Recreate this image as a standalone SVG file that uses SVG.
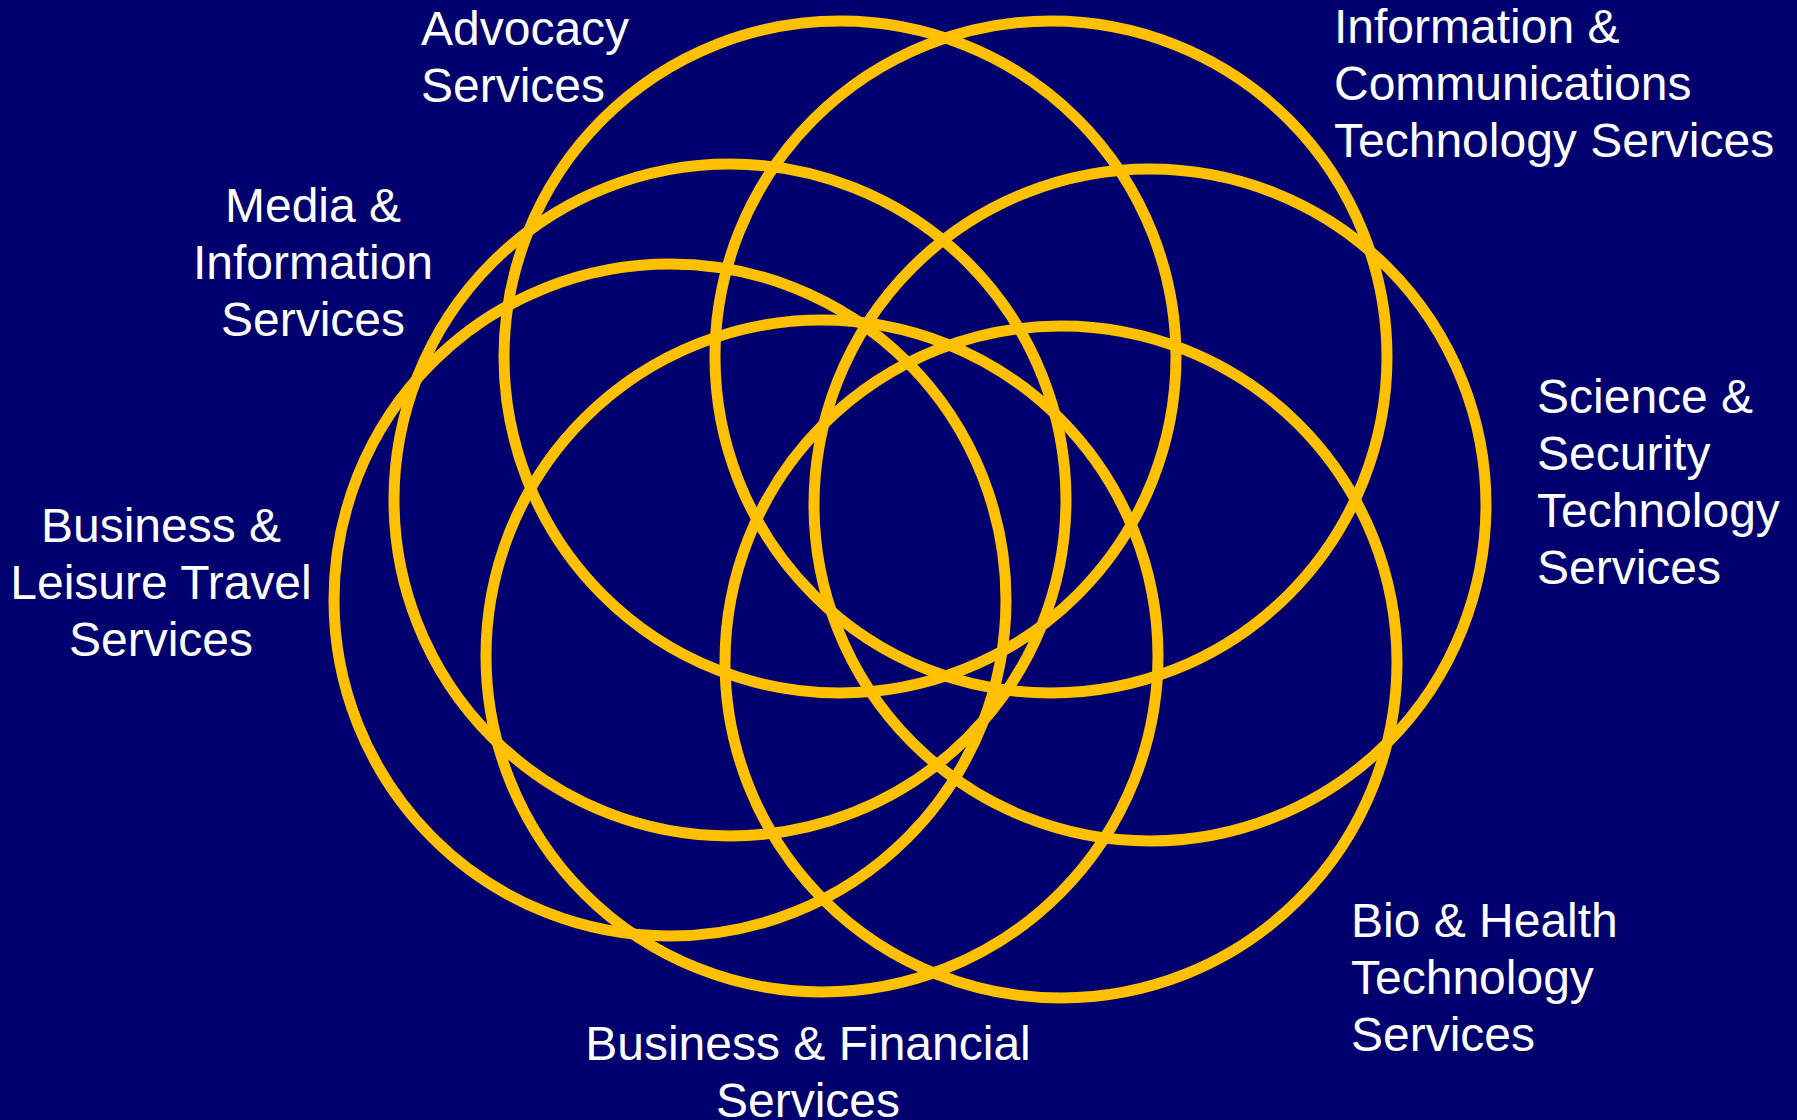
<svg xmlns="http://www.w3.org/2000/svg" width="1797" height="1120" viewBox="0 0 1797 1120">
  <style>
    .ring { fill: none; stroke: #FFC000; stroke-width: 11; }
    .label { fill: #FFFFFF; font-family: "Liberation Sans", Arial, sans-serif; font-size: 48px; }
    .mid { text-anchor: middle; }
  </style>
  <rect width="1797" height="1120" fill="#00006E"/>

  <!-- overlapping service-sector rings -->
  <g id="rings">
    <circle id="ring-advocacy" class="ring" cx="840" cy="357" r="336"/>
    <circle id="ring-ict" class="ring" cx="1051" cy="357" r="336"/>
    <circle id="ring-media" class="ring" cx="730" cy="500" r="336"/>
    <circle id="ring-science" class="ring" cx="1150" cy="505" r="336"/>
    <circle id="ring-travel" class="ring" cx="670" cy="600" r="336"/>
    <circle id="ring-financial" class="ring" cx="822" cy="656" r="336"/>
    <circle id="ring-bio" class="ring" cx="1061" cy="662" r="336"/>
  </g>

  <!-- sector labels -->
  <g id="label-advocacy" class="label">
    <text x="421" y="45">Advocacy</text>
    <text x="421" y="102">Services</text>
  </g>
  <g id="label-ict" class="label">
    <text x="1334" y="43">Information &amp;</text>
    <text x="1334" y="100">Communications</text>
    <text x="1334" y="157">Technology Services</text>
  </g>
  <g id="label-media" class="label mid">
    <text x="313" y="222">Media &amp;</text>
    <text x="313" y="279">Information</text>
    <text x="313" y="336">Services</text>
  </g>
  <g id="label-travel" class="label mid">
    <text x="161" y="542">Business &amp;</text>
    <text x="161" y="599">Leisure Travel</text>
    <text x="161" y="656">Services</text>
  </g>
  <g id="label-science" class="label">
    <text x="1537" y="413">Science &amp;</text>
    <text x="1537" y="470">Security</text>
    <text x="1537" y="527">Technology</text>
    <text x="1537" y="584">Services</text>
  </g>
  <g id="label-bio" class="label">
    <text x="1351" y="937">Bio &amp; Health</text>
    <text x="1351" y="994">Technology</text>
    <text x="1351" y="1051">Services</text>
  </g>
  <g id="label-financial" class="label mid">
    <text x="808" y="1060">Business &amp; Financial</text>
    <text x="808" y="1117">Services</text>
  </g>

  <g id="connectors"></g>
</svg>
